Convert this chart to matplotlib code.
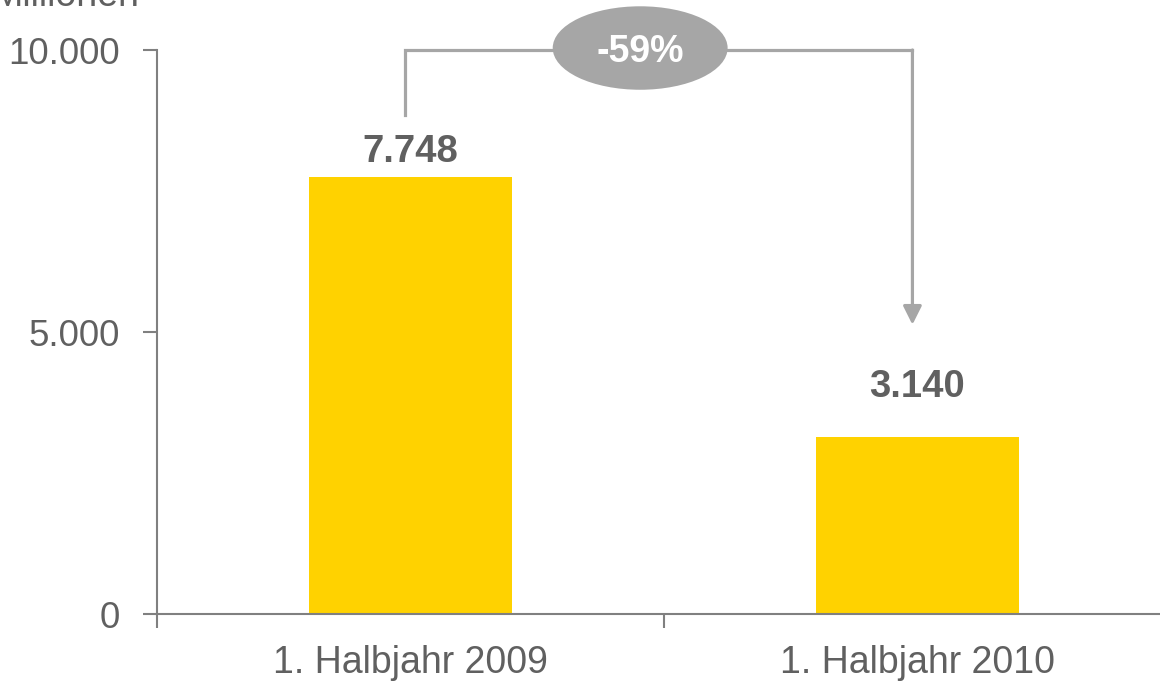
import matplotlib.pyplot as plt
from matplotlib.patches import Ellipse

plt.rcParams['font.family'] = ['Liberation Sans', 'DejaVu Sans']

# data
kategorien = ["1. Halbjahr 2009", "1. Halbjahr 2010"]
werte = [7748, 3140]
wert_labels = ["7.748", "3.140"]
yticks = [0, 5000, 10000]
ytick_labels = ["0", "5.000", "10.000"]
aenderung = "-59%"

gelb = "#FFD200"
grau_text = "#606060"
grau_achse = "#808080"
grau_pfeil = "#A6A6A6"

fig = plt.figure(figsize=(11.6, 6.9), dpi=100)
ax = fig.add_axes([157 / 1160, 76 / 690, 1014 / 1160, 564 / 690])

x = range(len(kategorien))
ax.bar(x, werte, width=0.4, color=gelb, zorder=2)

# Abstand der Wertbeschriftung ueber dem Balken (wie im Original ungleich)
label_abstand = [270, 710]
for xi, v, lab, d in zip(x, werte, wert_labels, label_abstand):
    ax.text(xi, v + d, lab, ha='center', va='baseline', fontsize=27.5,
            fontweight='bold', color=grau_text)

ax.set_xlim(-0.5, 1.5)
ax.set_ylim(0, 10000)

ax.set_yticks(yticks)
ax.set_yticklabels(ytick_labels)
ax.set_xticks(list(x))
ax.set_xticklabels(kategorien)
ax.set_xticks([-0.5, 0.5, 1.5], minor=True)

ax.tick_params(axis='y', length=10, width=1.5, color=grau_achse, pad=17,
               labelsize=26.5, labelcolor=grau_text)
ax.tick_params(axis='x', which='major', length=0, pad=22,
               labelsize=27, labelcolor=grau_text)
ax.tick_params(axis='x', which='minor', length=10, width=1.5, color=grau_achse)

for s in ['top', 'right']:
    ax.spines[s].set_visible(False)
for s in ['left', 'bottom']:
    ax.spines[s].set_color(grau_achse)
    ax.spines[s].set_linewidth(1.5)
ax.spines['bottom'].set_zorder(3)

# Verbindungslinie mit Pfeil
x1, x2 = -0.01, 0.99
ax.plot([x1, x1, x2], [8850, 10000, 10000], color=grau_pfeil, lw=2.3,
        clip_on=False, solid_joinstyle='miter', zorder=4)
ax.annotate('', xy=(x2, 5130), xytext=(x2, 10000),
            arrowprops=dict(arrowstyle='-|>', color=grau_pfeil, lw=2.3,
                            mutation_scale=28, shrinkA=0, shrinkB=0),
            annotation_clip=False, zorder=4)

ell = Ellipse((0.453, 10035), 0.345, 1480, facecolor=grau_pfeil,
              edgecolor='none', clip_on=False, zorder=5)
ax.add_patch(ell)
ax.text(0.453, 9960, aenderung, ha='center', va='center', fontsize=27,
        fontweight='bold', color='white', zorder=6, clip_on=False)

fig.text(140 / 1160, (690 - 6) / 690, "Millionen", ha='right', va='baseline',
         fontsize=27, color=grau_text)

fig.savefig("out.png", dpi=100)
